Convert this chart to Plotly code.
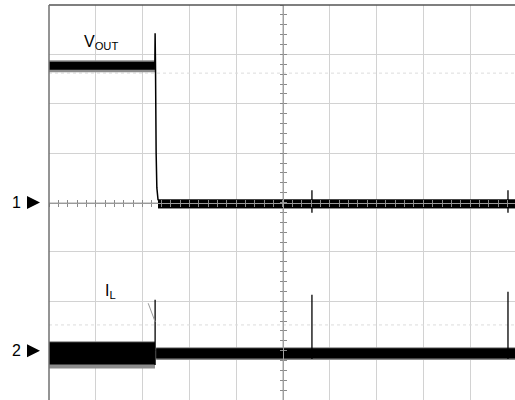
import plotly.graph_objects as go

# Screen coordinates are in scope divisions: x 0..10 (time), y 0..8 (vertical)
X_MAX = 9.96          # visible part of the 10-division screen
Y_MAX = 8

# ---- Channel 1 : V_OUT ----
t_switch = 2.265
vout_high_band = [6.69, 6.85]          # lower / upper edge of noise band before the step
vout_high_fringe = [6.64, 6.88]
vout_low_band = [3.89, 4.06]           # after the step
vout_low_fringe = [3.87, 4.07]
vout_low_start = 2.33
vout_edge_t = [2.262, 2.268, 2.276, 2.29, 2.305, 2.33, 2.38]
vout_edge_v = [6.77, 7.43, 6.80, 5.00, 4.30, 4.06, 3.98]
vout_spike_t = [5.62, 9.81]
vout_spike_hi = [4.25, 4.25]
vout_spike_lo = [3.79, 3.79]

# ---- Channel 2 : I_L ----
il_pre_band = [0.72, 1.17]
il_pre_fringe = [0.64, 1.19]
il_post_band = [0.84, 1.05]
il_post_fringe = [0.81, 1.07]
il_post_start = 2.29
il_spike_t = [2.268, 5.62, 9.81]
il_spike_hi = [2.03, 2.13, 2.19]
il_spike_lo = [0.71, 0.83, 0.83]
il_slope_t = [2.12, 2.27]
il_slope_v = [1.96, 1.58]

# faint reference traces on screen
faint_levels = [6.62, 1.52]

# channel ground markers
ch_labels = ["1", "2"]
ch_levels = [4.0, 1.0]


def band(t0, t1, lo, hi, color="black"):
    return go.Scatter(x=[t0, t1, t1, t0, t0], y=[lo, lo, hi, hi, lo], mode="lines",
                      fill="toself", fillcolor=color, line=dict(width=0),
                      hoverinfo="skip", showlegend=False)


def spikes(ts, his, los, color="black", width=1.3):
    xs, ys = [], []
    for t, h, l in zip(ts, his, los):
        xs += [t, t, None]
        ys += [l, h, None]
    return go.Scatter(x=xs, y=ys, mode="lines", line=dict(color=color, width=width),
                      hoverinfo="skip", showlegend=False)


fig = go.Figure()

# faint dotted reference lines
for lv in faint_levels:
    fig.add_trace(go.Scatter(x=[0, X_MAX], y=[lv, lv], mode="lines",
                             line=dict(color="#dcdcdc", width=1, dash="dot"),
                             hoverinfo="skip", showlegend=False))

fringe = "#8c8c8c"
# V_OUT
fig.add_trace(band(0, t_switch, vout_high_fringe[0], vout_high_fringe[1], fringe))
fig.add_trace(band(0, t_switch, vout_high_band[0], vout_high_band[1]))
fig.add_trace(band(vout_low_start, X_MAX, vout_low_fringe[0], vout_low_fringe[1], fringe))
fig.add_trace(band(vout_low_start, X_MAX, vout_low_band[0], vout_low_band[1]))
fig.add_trace(go.Scatter(x=vout_edge_t, y=vout_edge_v, mode="lines",
                         line=dict(color="black", width=1.5), hoverinfo="skip", showlegend=False))
fig.add_trace(spikes(vout_spike_t, vout_spike_hi, vout_spike_lo))

# I_L
fig.add_trace(band(0, t_switch, il_pre_fringe[0], il_pre_fringe[1], fringe))
fig.add_trace(band(0, t_switch, il_pre_band[0], il_pre_band[1]))
fig.add_trace(band(il_post_start, X_MAX, il_post_fringe[0], il_post_fringe[1], fringe))
fig.add_trace(band(il_post_start, X_MAX, il_post_band[0], il_post_band[1]))
fig.add_trace(spikes(il_spike_t, il_spike_hi, il_spike_lo))
fig.add_trace(go.Scatter(x=il_slope_t, y=il_slope_v, mode="lines",
                         line=dict(color="#999999", width=1), hoverinfo="skip", showlegend=False))

# dummy traces for the centre cross-hair axes
for xa, ya in [("x2", "y2"), ("x3", "y3")]:
    fig.add_trace(go.Scatter(x=[None], y=[None], xaxis=xa, yaxis=ya, showlegend=False,
                             hoverinfo="skip"))

grid = "#d2d2d2"
base_ax = dict(showticklabels=False, zeroline=False, showline=False, fixedrange=True)

cx = 5 / X_MAX
cy = 4 / Y_MAX

shapes = [
    dict(type="line", xref="paper", yref="paper", x0=0, x1=1, y0=1, y1=1,
         line=dict(color="#555555", width=1.5)),
    dict(type="line", xref="paper", yref="paper", x0=0, x1=0, y0=0, y1=1,
         line=dict(color="#707070", width=1.5)),
]
# ground-level arrows just left of the screen (pixel-sized, anchored at each level)
for lv in ch_levels:
    shapes.append(dict(type="path", xref="paper", yref="y", xsizemode="pixel",
                       ysizemode="pixel", xanchor=0, yanchor=lv,
                       path="M -22,6.5 L -9,0 L -22,-6.5 Z",
                       fillcolor="black", line=dict(width=0)))

fig.update_layout(
    width=515, height=400,
    margin=dict(l=49, r=0, t=5, b=0),
    paper_bgcolor="white", plot_bgcolor="white",
    font=dict(family="Liberation Sans, Arial, sans-serif", color="black"),
    xaxis=dict(range=[0, X_MAX], dtick=1, tick0=0, showgrid=True, gridcolor=grid,
               gridwidth=1, ticks="", **base_ax),
    yaxis=dict(range=[0, Y_MAX], dtick=1, tick0=0, showgrid=True, gridcolor=grid,
               gridwidth=1, ticks="", **base_ax),
    xaxis2=dict(overlaying="x", anchor="free", position=cy, range=[0, X_MAX], dtick=0.2,
                tick0=0, ticks="outside", ticklen=3, tickcolor="#8a8a8a", showgrid=False,
                showticklabels=False, zeroline=False, showline=True, linecolor="#9a9a9a"),
    xaxis3=dict(overlaying="x", anchor="free", position=cy, range=[0, X_MAX], dtick=0.2,
                tick0=0, ticks="inside", ticklen=3, tickcolor="#8a8a8a", showgrid=False,
                showticklabels=False, zeroline=False, showline=False),
    yaxis2=dict(overlaying="y", anchor="free", position=cx, range=[0, Y_MAX], dtick=0.2,
                tick0=0, ticks="outside", ticklen=3, tickcolor="#8a8a8a", showgrid=False,
                showticklabels=False, zeroline=False, showline=True, linecolor="#a0a0a0"),
    yaxis3=dict(overlaying="y", anchor="free", position=cx, range=[0, Y_MAX], dtick=0.2,
                tick0=0, ticks="inside", ticklen=3, tickcolor="#8a8a8a", showgrid=False,
                showticklabels=False, zeroline=False, showline=False),
    shapes=shapes,
)

annotations = [
    dict(x=0.70, y=7.25, xref="x", yref="y", text="V<sub>OUT</sub>", showarrow=False,
         xanchor="left", yanchor="middle", font=dict(size=16, color="black")),
    dict(x=1.16, y=2.2, xref="x", yref="y", text="I<sub>L</sub>", showarrow=False,
         xanchor="left", yanchor="middle", font=dict(size=16, color="black")),
]
for lab, lv in zip(ch_labels, ch_levels):
    annotations.append(dict(
        x=-26 / 466, y=lv, xref="paper", yref="y", text=lab,
        showarrow=False, xanchor="right", yanchor="middle",
        font=dict(size=16, color="black", family="Liberation Sans, Arial, sans-serif")))
fig.update_layout(annotations=annotations)

fig.write_html("out.html", config={"displayModeBar": False},
               post_script="document.body.style.margin='0';")
